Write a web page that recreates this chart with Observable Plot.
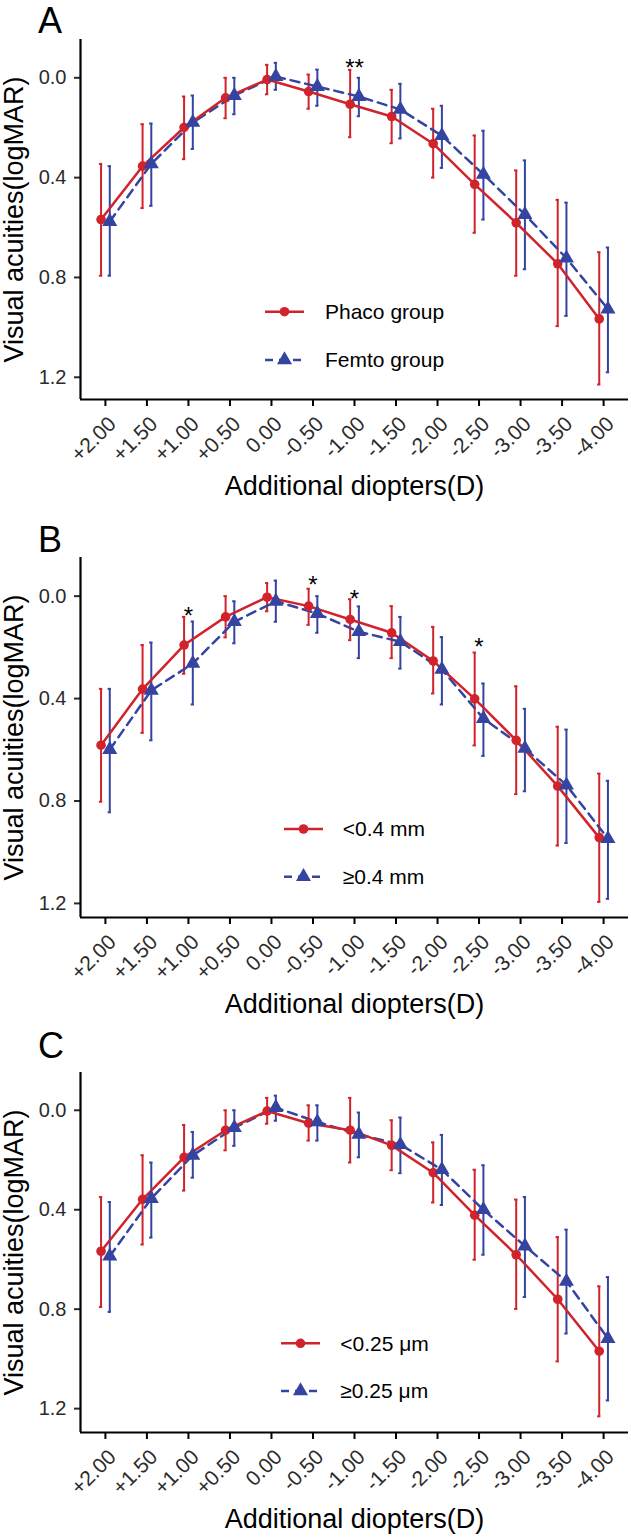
<!DOCTYPE html>
<html>
<head>
<meta charset="utf-8">
<script src="https://cdn.jsdelivr.net/npm/d3@7"></script>
<script src="https://cdn.jsdelivr.net/npm/@observablehq/plot@0.6"></script>
<style>
  body { margin: 0; background: white; }
  #page { position: relative; width: 631px; height: 1538px; overflow: hidden; }
  .panel { position: absolute; left: 0; width: 631px; }
</style>
</head>
<body>
<div id="page"></div>
<script>
// x categories (additional diopters)
const diopters = ["+2.00", "+1.50", "+1.00", "+0.50", "0.00", "-0.50", "-1.00", "-1.50", "-2.00", "-2.50", "-3.00", "-3.50", "-4.00"];
const yTicks = [0, 0.4, 0.8, 1.2];

// panel A: Phaco vs Femto
const phacoMean = [0.568, 0.354, 0.199, 0.080, 0.007, 0.055, 0.106, 0.155, 0.264, 0.427, 0.581, 0.745, 0.966];
const phacoLow  = [0.345, 0.186, 0.075, 0.000, -0.052, -0.013, -0.032, 0.048, 0.124, 0.231, 0.371, 0.489, 0.699];
const phacoHigh = [0.793, 0.522, 0.326, 0.162, 0.066, 0.124, 0.238, 0.262, 0.400, 0.621, 0.793, 0.995, 1.229];
const femtoMean = [0.576, 0.345, 0.179, 0.071, -0.005, 0.035, 0.075, 0.127, 0.232, 0.387, 0.548, 0.723, 0.927];
const femtoLow  = [0.354, 0.183, 0.071, 0.000, -0.060, -0.033, 0.000, 0.024, 0.112, 0.212, 0.331, 0.500, 0.680];
const femtoHigh = [0.793, 0.513, 0.285, 0.146, 0.048, 0.112, 0.154, 0.243, 0.361, 0.568, 0.767, 0.954, 1.180];
const starsA = [{d: "-1.00", y: -0.061, t: "**"}];

// panel B: <0.4 mm vs >=0.4 mm
const lt04Mean = [0.582, 0.363, 0.191, 0.081, 0.004, 0.039, 0.091, 0.143, 0.253, 0.401, 0.563, 0.742, 0.943];
const lt04Low  = [0.362, 0.191, 0.081, 0.000, -0.051, -0.029, 0.012, 0.039, 0.120, 0.220, 0.352, 0.510, 0.693];
const lt04High = [0.803, 0.534, 0.303, 0.161, 0.059, 0.112, 0.172, 0.242, 0.380, 0.583, 0.773, 0.974, 1.194];
const ge04Mean = [0.599, 0.368, 0.263, 0.100, 0.020, 0.068, 0.139, 0.178, 0.286, 0.478, 0.595, 0.738, 0.947];
const ge04Low  = [0.362, 0.181, 0.099, 0.020, -0.061, 0.000, 0.040, 0.081, 0.160, 0.341, 0.440, 0.521, 0.721];
const ge04High = [0.844, 0.563, 0.423, 0.184, 0.100, 0.143, 0.242, 0.283, 0.423, 0.624, 0.762, 0.964, 1.182];
const starsB = [
  {d: "+1.00", y: 0.055, t: "*"},
  {d: "-0.50", y: -0.065, t: "*"},
  {d: "-1.00", y: -0.011, t: "*"},
  {d: "-2.50", y: 0.178, t: "*"}
];

// panel C: <0.25 um vs >=0.25 um
const lt025Mean = [0.567, 0.358, 0.189, 0.080, 0.003, 0.052, 0.080, 0.141, 0.251, 0.422, 0.581, 0.760, 0.969];
const lt025Low  = [0.349, 0.181, 0.059, 0.000, -0.050, -0.020, -0.050, 0.040, 0.129, 0.239, 0.359, 0.510, 0.708];
const lt025High = [0.791, 0.540, 0.323, 0.161, 0.054, 0.122, 0.210, 0.241, 0.371, 0.601, 0.799, 1.010, 1.231];
const ge025Mean = [0.587, 0.355, 0.181, 0.070, -0.011, 0.047, 0.097, 0.138, 0.239, 0.400, 0.546, 0.688, 0.918];
const ge025Low  = [0.369, 0.210, 0.087, 0.000, -0.059, -0.020, 0.009, 0.029, 0.099, 0.221, 0.349, 0.480, 0.671];
const ge025High = [0.811, 0.512, 0.271, 0.143, 0.042, 0.122, 0.189, 0.253, 0.381, 0.581, 0.751, 0.898, 1.167];

const RED = "#d0232b";
const BLUE = "#3444a0";
const DODGE = 0.105;
const FONT = "'Liberation Sans', Arial, sans-serif";

function rows(mean, low, high, shift) {
  return mean.map((m, i) => ({i, x: i + shift, m, lo: low[i], hi: high[i]}));
}

function errMarks(data, color) {
  return [
    Plot.ruleX(data, {x: "x", y1: "lo", y2: "hi", stroke: color, strokeWidth: 2}),
    Plot.ruleY(data, {y: "lo", x1: d => d.x - 0.04, x2: d => d.x + 0.04, stroke: color, strokeWidth: 2}),
    Plot.ruleY(data, {y: "hi", x1: d => d.x - 0.04, x2: d => d.x + 0.04, stroke: color, strokeWidth: 2})
  ];
}

function panel(opt) {
  const red = rows(opt.red[0], opt.red[1], opt.red[2], -DODGE);
  const blue = rows(opt.blue[0], opt.blue[1], opt.blue[2], DODGE);
  const xt = d3.range(diopters.length);
  const chart = Plot.plot({
    width: 631,
    height: 505,
    marginTop: 39,
    marginBottom: 106,
    marginLeft: 80,
    marginRight: 3,
    style: {fontFamily: FONT, background: "white", overflow: "visible"},
    x: {domain: [-0.6, 12.6]},
    y: {domain: opt.yDomain, reverse: true},
    marks: [
      ...errMarks(red, RED),
      ...errMarks(blue, BLUE),
      Plot.line(blue, {x: "x", y: "m", stroke: BLUE, strokeWidth: 2.5, strokeDasharray: "9,6"}),
      Plot.line(red, {x: "x", y: "m", stroke: RED, strokeWidth: 2.5}),
      Plot.dot(red, {x: "x", y: "m", r: 4.8, fill: RED, symbol: "circle"}),
      Plot.dot(blue, {x: "x", y: "m", r: 5.6, fill: BLUE, symbol: "triangle"}),
      Plot.text(opt.stars, {x: d => diopters.indexOf(d.d), y: "y", text: "t", fontSize: 24, dy: 6, fill: "#000"}),
      Plot.axisY({ticks: yTicks, tickFormat: d3.format(".1f"), tickSize: 6, tickPadding: 8, fontSize: 20, strokeWidth: 2, color: "#2b2b2b", label: null}),
      // tick marks
      Plot.axisX({ticks: xt, tickFormat: () => "", tickSize: 7, strokeWidth: 2, stroke: "#000", label: null}),
      // rotated tick labels
      Plot.axisX({ticks: xt, tickFormat: i => diopters[i], tickRotate: -45, tickSize: 0, tickPadding: 3, dx: 7, dy: 18, fontSize: 21, fill: "#2b2b2b", label: null}),
      Plot.ruleX([-0.6], {stroke: "#000", strokeWidth: 2.2}),
      Plot.ruleY([opt.yDomain[1]], {stroke: "#000", strokeWidth: 2.2}),
      Plot.text(["Additional diopters(D)"], {frameAnchor: "bottom", lineAnchor: "middle", textAnchor: "middle", dy: 87, fontSize: 27, fill: "#000"}),
      Plot.text(["Visual acuities(logMAR)"], {frameAnchor: "left", lineAnchor: "middle", textAnchor: "middle", dx: -66, rotate: -90, fontSize: 27, fill: "#000"})
    ]
  });

  const svg = d3.select(chart);
  // panel letter
  svg.append("text").attr("x", 38).attr("y", opt.letterY).attr("text-anchor", "start")
    .attr("font-family", FONT).attr("font-size", 36).attr("fill", "#000").text(opt.letter);

  // legend drawn inside the panel
  const g = svg.append("g").attr("font-family", FONT).attr("text-anchor", "start");
  const L = opt.legend;
  const items = [
    {label: opt.labels[0], color: RED, dash: null, sym: d3.symbolCircle, r: 4.8},
    {label: opt.labels[1], color: BLUE, dash: "8,6", sym: d3.symbolTriangle, r: 5.6}
  ];
  items.forEach((it, k) => {
    const y = L.rows[k];
    g.append("line").attr("x1", L.x0).attr("x2", L.x0 + 39).attr("y1", y).attr("y2", y)
      .attr("stroke", it.color).attr("stroke-width", 2.5).attr("stroke-dasharray", it.dash);
    g.append("path").attr("d", d3.symbol(it.sym, Math.PI * it.r * it.r)())
      .attr("transform", `translate(${L.x0 + 19.5},${y})`).attr("fill", it.color);
    g.append("text").attr("x", L.tx).attr("y", y).attr("dy", "0.35em")
      .attr("font-size", 21).attr("fill", "#000").text(it.label);
  });

  const wrap = document.createElement("div");
  wrap.className = "panel";
  wrap.style.top = opt.top + "px";
  wrap.appendChild(chart);
  document.getElementById("page").appendChild(wrap);
}

panel({
  top: 0, letter: "A", letterY: 33,
  yDomain: [-0.1535, 1.289],
  red: [phacoMean, phacoLow, phacoHigh],
  blue: [femtoMean, femtoLow, femtoHigh],
  stars: starsA,
  labels: ["Phaco group", "Femto group"],
  legend: {x0: 265, tx: 325, rows: [311.7, 360]}
});
panel({
  top: 518, letter: "B", letterY: 34,
  yDomain: [-0.151, 1.255],
  red: [lt04Mean, lt04Low, lt04High],
  blue: [ge04Mean, ge04Low, ge04High],
  stars: starsB,
  labels: ["<0.4 mm", "≥0.4 mm"],
  legend: {x0: 284, tx: 342.7, rows: [311, 358.7]}
});
panel({
  top: 1033, letter: "C", letterY: 25,
  yDomain: [-0.152, 1.296],
  red: [lt025Mean, lt025Low, lt025High],
  blue: [ge025Mean, ge025Low, ge025High],
  stars: [],
  labels: ["<0.25 μm", "≥0.25 μm"],
  legend: {x0: 281, tx: 340.3, rows: [310.3, 358]}
});
</script>
</body>
</html>
